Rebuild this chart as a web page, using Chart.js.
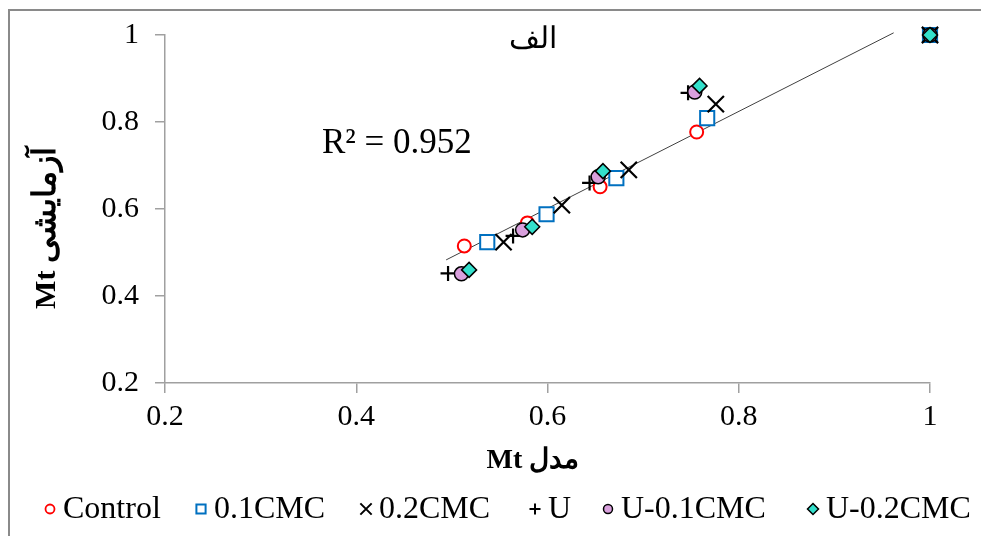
<!DOCTYPE html>
<html><head><meta charset="utf-8">
<script src="https://cdn.jsdelivr.net/npm/chart.js@4.4.1/dist/chart.umd.min.js"></script>
<style>html,body{margin:0;padding:0;background:#fff}#wrap{width:981px;height:536px;position:relative}</style>
</head><body><div id="wrap"><canvas id="c" width="981" height="536"></canvas></div>
<script>
const tickValues = [0.2, 0.4, 0.6, 0.8, 1];
const tickLabels = ['0.2', '0.4', '0.6', '0.8', '1'];
const seriesNames = ['Control', '0.1CMC', '0.2CMC', 'U', 'U-0.1CMC', 'U-0.2CMC'];
const controlX = [0.513, 0.579, 0.655, 0.756, 1];
const controlY = [0.515, 0.568, 0.651, 0.777, 1];
const cmc01X = [0.537, 0.599, 0.672, 0.767, 1];
const cmc01Y = [0.524, 0.588, 0.671, 0.809, 1];
const cmc02X = [0.554, 0.615, 0.685, 0.776, 1];
const cmc02Y = [0.524, 0.609, 0.690, 0.841, 1];
const uX = [0.496, 0.564, 0.644, 0.747, 1];
const uY = [0.452, 0.538, 0.660, 0.867, 1];
const u01X = [0.510, 0.574, 0.653, 0.754, 1];
const u01Y = [0.451, 0.552, 0.674, 0.869, 1];
const u02X = [0.518, 0.584, 0.658, 0.759, 1];
const u02Y = [0.460, 0.559, 0.687, 0.883, 1];
const trendX = [0.494, 0.962];
const trendY = [0.483, 1.005];
const r2Text = 'R² = 0.952';
const titleText = 'الف';
const xTitle = 'Mt مدل';
const yTitleLatin = 'Mt';
const yTitleFa = 'آزمایشی';

const FONT = '"Liberation Serif", "Times New Roman", serif';
const pts = (xs, ys) => xs.map((x, i) => ({x, y: ys[i]}));

const styles = [
  {pointStyle: 'circle', radius: 6.5, bg: '#ffffff', border: '#ff0000', bw: 2, lr: 4.5},
  {pointStyle: 'rect', radius: 10, bg: '#ffffff', border: '#0070c0', bw: 2, lr: 6.5},
  {pointStyle: 'crossRot', radius: 11.5, bg: '#000', border: '#000000', bw: 2.2, lr: 8},
  {pointStyle: 'cross', radius: 7.5, bg: '#000', border: '#000000', bw: 2.2, lr: 5.5},
  {pointStyle: 'circle', radius: 7, bg: '#d9a0dd', border: '#000000', bw: 1.5, lr: 4.5},
  {pointStyle: 'rectRot', radius: 7.5, bg: '#33e0cc', border: '#000000', bw: 1.5, lr: 5.5}
];
const seriesData = [pts(controlX, controlY), pts(cmc01X, cmc01Y), pts(cmc02X, cmc02Y), pts(uX, uY), pts(u01X, u01Y), pts(u02X, u02Y)];

const datasets = seriesData.map((d, i) => ({
  label: seriesNames[i], data: d, showLine: false,
  pointStyle: styles[i].pointStyle, pointRadius: styles[i].radius, pointHoverRadius: styles[i].radius,
  pointBackgroundColor: styles[i].bg, pointBorderColor: styles[i].border, pointBorderWidth: styles[i].bw,
  order: 5 - i, clip: false
}));
datasets.push({
  label: 'trend', data: pts(trendX, trendY), showLine: true, borderColor: '#404040', borderWidth: 1,
  pointRadius: 0, order: 10, clip: false
});

const legendPos = [63, 214, 379, 548, 621, 826];

const deco = {
  id: 'deco',
  afterDraw(chart) {
    const ctx = chart.ctx;
    ctx.save();
    ctx.strokeStyle = '#8a8a8a'; ctx.lineWidth = 2;
    ctx.beginPath(); ctx.moveTo(9, 600); ctx.lineTo(9, 10); ctx.lineTo(1000, 10); ctx.stroke();
    ctx.fillStyle = '#000'; ctx.direction = 'ltr';
    ctx.font = '30px ' + FONT; ctx.textAlign = 'center'; ctx.textBaseline = 'middle';
    ctx.fillText(titleText, 533, 40);
    ctx.font = '35px ' + FONT; ctx.textAlign = 'left';
    ctx.fillText(r2Text, 322, 144);
    ctx.font = 'bold 28px ' + FONT; ctx.textAlign = 'center';
    ctx.fillText(xTitle, 533, 461);
    // y title: Latin part at bottom, Persian above (rotated)
    ctx.save(); ctx.translate(47, 228); ctx.rotate(-Math.PI / 2);
    ctx.font = 'bold 30px ' + FONT;
    const wL = ctx.measureText(yTitleLatin + ' ').width;
    ctx.font = 'bold 32px ' + FONT;
    const wF = ctx.measureText(yTitleFa).width;
    const start = -(wL + wF) / 2;
    ctx.textAlign = 'left';
    ctx.font = 'bold 30px ' + FONT;
    ctx.fillText(yTitleLatin, start, 0);
    ctx.font = 'bold 32px ' + FONT;
    ctx.fillText(yTitleFa, start + wL, 0);
    ctx.restore();
    ctx.font = '32px ' + FONT; ctx.textAlign = 'left';
    const ly = 509;
    seriesNames.forEach((n, i) => {
      const s = styles[i];
      drawMarker(ctx, s, legendPos[i] - 13, ly, s.lr);
      ctx.fillStyle = '#000';
      ctx.fillText(n, legendPos[i], ly + 1);
    });
    ctx.restore();
  }
};
function drawMarker(ctx, s, x, y, r) {
  ctx.save();
  ctx.lineWidth = s.bw > 2 ? 2 : (s.pointStyle === 'circle' && s.border !== '#000000' ? 1.8 : s.bw);
  ctx.strokeStyle = s.border; ctx.fillStyle = s.bg;
  ctx.beginPath();
  if (s.pointStyle === 'circle') { ctx.arc(x, y, r, 0, Math.PI * 2); ctx.fill(); ctx.stroke(); }
  else if (s.pointStyle === 'rect') { ctx.rect(x - r * 0.707, y - r * 0.707, r * 1.414, r * 1.414); ctx.fill(); ctx.stroke(); }
  else if (s.pointStyle === 'rectRot') { ctx.moveTo(x, y - r); ctx.lineTo(x + r, y); ctx.lineTo(x, y + r); ctx.lineTo(x - r, y); ctx.closePath(); ctx.fill(); ctx.stroke(); }
  else if (s.pointStyle === 'crossRot') { const a = r * 0.707; ctx.moveTo(x - a, y - a); ctx.lineTo(x + a, y + a); ctx.moveTo(x + a, y - a); ctx.lineTo(x - a, y + a); ctx.stroke(); }
  else if (s.pointStyle === 'cross') { ctx.moveTo(x - r, y); ctx.lineTo(x + r, y); ctx.moveTo(x, y - r); ctx.lineTo(x, y + r); ctx.stroke(); }
  ctx.restore();
}

const axisColor = '#a0a0a0';
const tickCb = function (v) { const i = tickValues.findIndex(t => Math.abs(t - v) < 1e-6); return i >= 0 ? tickLabels[i] : ''; };

new Chart(document.getElementById('c'), {
  type: 'scatter',
  data: {datasets},
  options: {
    responsive: false, animation: false, devicePixelRatio: 1,
    layout: {padding: {left: 0, right: 51, top: 35, bottom: 0}},
    plugins: {legend: {display: false}, tooltip: {enabled: false}},
    scales: {
      x: {
        type: 'linear', min: 0.2, max: 1,
        afterBuildTicks: s => { s.ticks = tickValues.map(v => ({value: v})); },
        afterFit: s => { s.height = 153; },
        ticks: {callback: tickCb, color: '#000', font: {family: FONT, size: 30}, padding: 6, maxRotation: 0},
        grid: {drawOnChartArea: false, drawTicks: true, tickLength: 10, color: axisColor, lineWidth: 1.5},
        border: {color: axisColor, width: 1.5}
      },
      y: {
        type: 'linear', min: 0.2, max: 1,
        afterBuildTicks: s => { s.ticks = tickValues.map(v => ({value: v})); },
        afterFit: s => { s.width = 165; },
        ticks: {callback: tickCb, color: '#000', font: {family: FONT, size: 30}, padding: 16},
        grid: {drawOnChartArea: false, drawTicks: true, tickLength: 10, color: axisColor, lineWidth: 1.5},
        border: {color: axisColor, width: 1.5}
      }
    }
  },
  plugins: [deco]
});
</script></body></html>
